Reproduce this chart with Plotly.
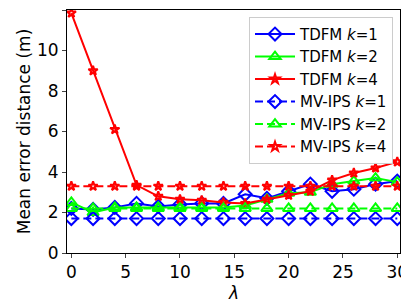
import plotly.graph_objects as go

lam = [0, 2, 4, 6, 8, 10, 12, 14, 16, 18, 20, 22, 24, 26, 28, 30]
tdfm_k1 = [2.2, 2.15, 2.25, 2.45, 2.3, 2.4, 2.45, 2.45, 2.9, 2.7, 3.05, 3.4, 3.05, 3.15, 3.4, 3.55]
tdfm_k2 = [2.5, 2.0, 2.25, 2.25, 2.25, 2.25, 2.25, 2.25, 2.35, 2.65, 2.95, 3.0, 3.4, 3.55, 3.7, 3.5]
tdfm_k4 = [11.85, 9.0, 6.1, 3.35, 2.8, 2.65, 2.6, 2.5, 2.45, 2.65, 2.85, 3.05, 3.6, 3.95, 4.2, 4.5]
mvips_k1 = [1.7] * 16
mvips_k2 = [2.2] * 16
mvips_k4 = [3.3] * 16

BLUE, GREEN, RED = "#0000ff", "#00ff00", "#ff0000"

series = [
    ("TDFM <i>k</i>=1", tdfm_k1, BLUE, "diamond-open", "solid", 10),
    ("TDFM <i>k</i>=2", tdfm_k2, GREEN, "triangle-up-open", "solid", 10),
    ("TDFM <i>k</i>=4", tdfm_k4, RED, "star-open", "solid", 7),
    ("MV-IPS <i>k</i>=1", mvips_k1, BLUE, "diamond-open", "dash", 10),
    ("MV-IPS <i>k</i>=2", mvips_k2, GREEN, "triangle-up-open", "dash", 10),
    ("MV-IPS <i>k</i>=4", mvips_k4, RED, "star-open", "dash", 7),
]

fig = go.Figure()
for i, (name, ys, col, sym, dash, sz) in enumerate(series):
    fig.add_trace(go.Scatter(
        x=lam, y=ys, name=name, mode="lines+markers", legendgroup=f"g{i}",
        line=dict(color=col, width=2, dash="8px,4px" if dash == "dash" else "solid"),
        marker=dict(symbol=sym, size=sz, color=col, line=dict(color=col, width=2)),
    ))

# The page body has an 8px margin, so the figure is shifted by 8px right and down.
font = "DejaVu Sans, sans-serif"
fig.update_layout(
    width=401, height=292,
    margin=dict(l=59, r=9, t=2, b=47),
    paper_bgcolor="white", plot_bgcolor="white",
    font=dict(family=font, size=17, color="black"),
    legend=dict(x=0.979, y=0.972, xanchor="right", yanchor="top",
                bgcolor="rgba(255,255,255,0.9)", bordercolor="#cccccc", borderwidth=1,
                font=dict(size=15), itemwidth=40, tracegroupgap=0),
    xaxis=dict(range=[-0.4, 30.25], tickvals=[0, 5, 10, 15, 20, 25, 30],
               showgrid=False, zeroline=False, showline=True, linecolor="black",
               linewidth=1, mirror=True, ticks="outside", ticklen=4, automargin=False,
               tickfont=dict(size=17)),
    yaxis=dict(range=[0, 12], tickvals=[0, 2, 4, 6, 8, 10, 12],
               showgrid=False, zeroline=False, showline=True, linecolor="black",
               linewidth=1, mirror=True, ticks="outside", ticklen=4, automargin=False,
               tickfont=dict(size=17),
               title=dict(text="Mean error distance (m)", standoff=2, font=dict(size=17))),
    annotations=[dict(text="<i>λ</i>", xref="paper", yref="paper", x=0.5, y=-0.165,
                      xanchor="center", yanchor="middle", showarrow=False,
                      font=dict(size=17))],
)

fig.write_html("out.html")
